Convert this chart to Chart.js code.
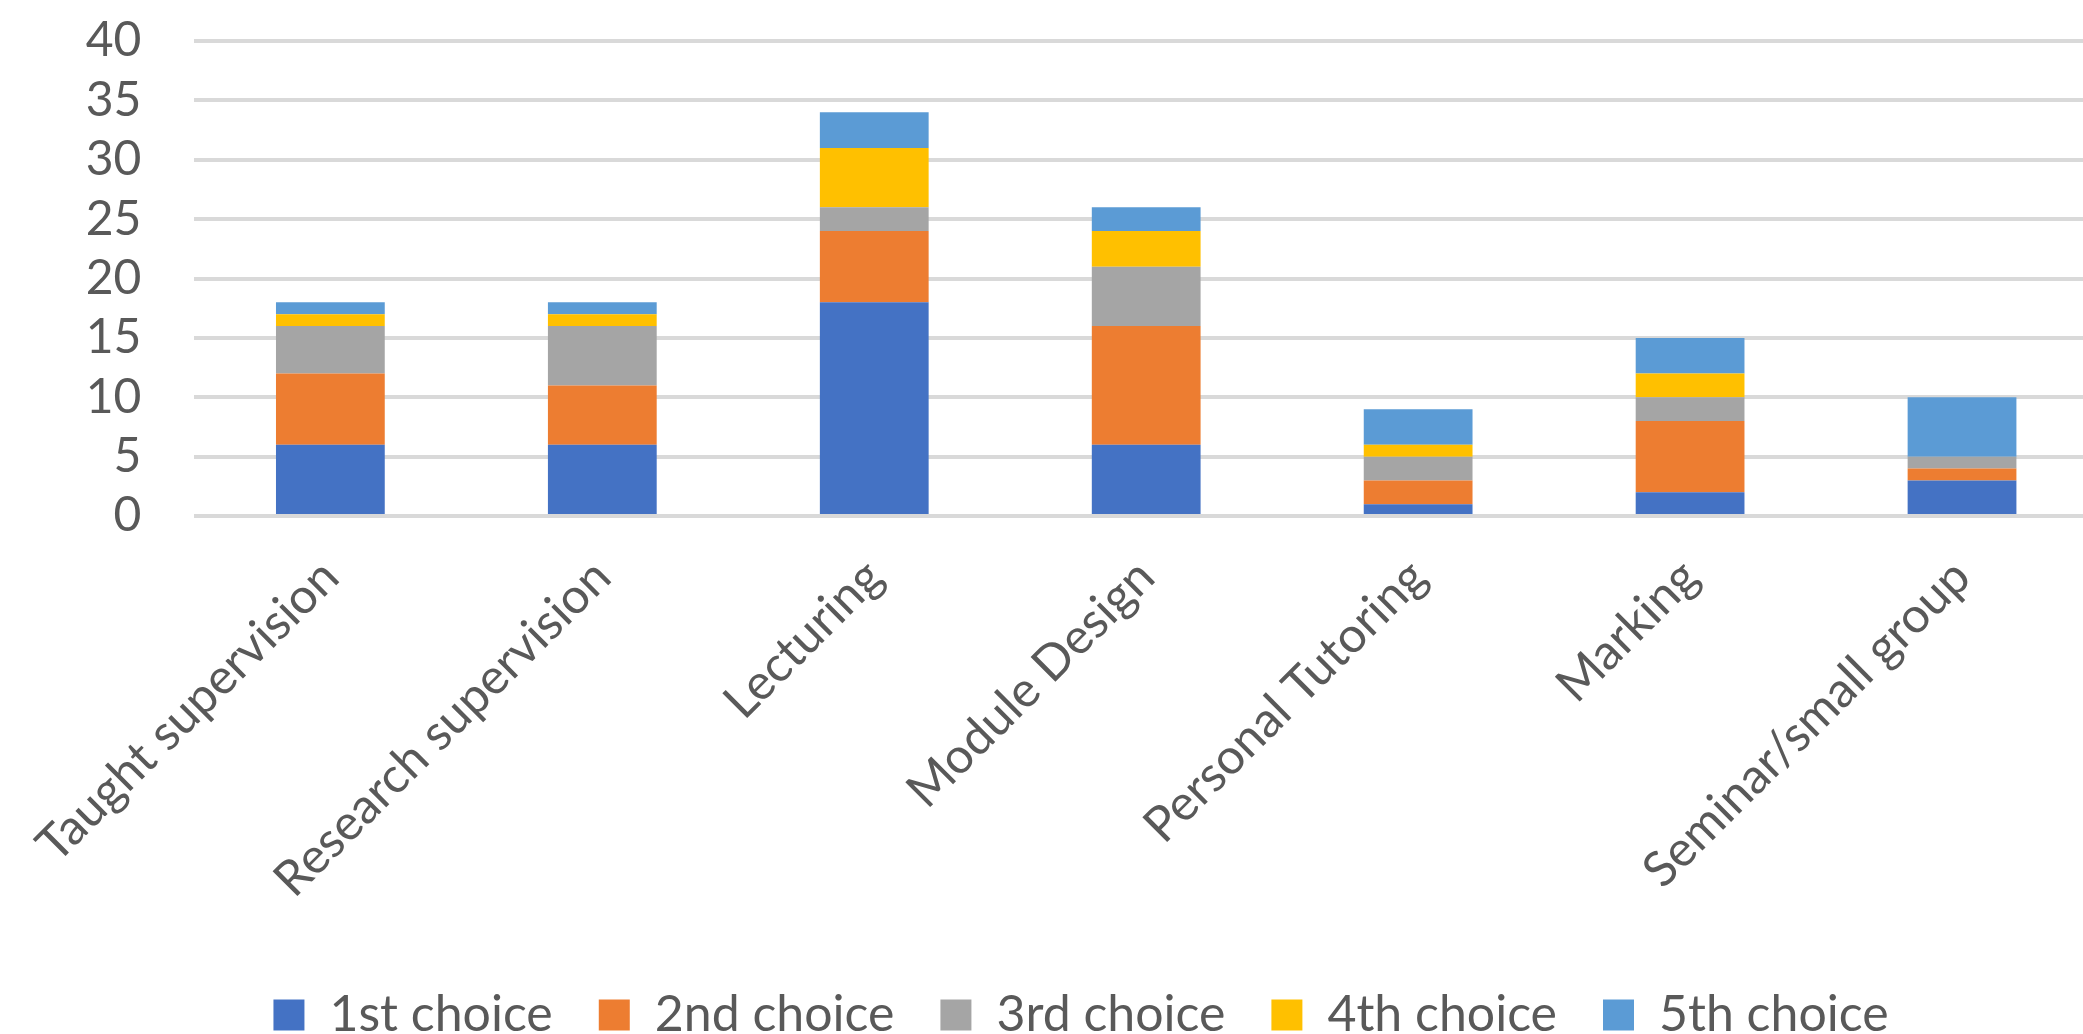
<!DOCTYPE html>
<html>
<head>
<meta charset="utf-8">
<script src="https://cdn.jsdelivr.net/npm/chart.js@4.4.1/dist/chart.umd.min.js"></script>
<style>
    html, body { margin: 0; padding: 0; background: #fff; overflow: hidden; }
    #wrap { position: absolute; left: 0; top: 0; width: 2098px; height: 1050px; }
</style>
</head>
<body>
<div id="wrap"><canvas id="graph"></canvas></div>
<script>
const categories = ['Taught supervision', 'Research supervision', 'Lecturing', 'Module Design',
    'Personal Tutoring', 'Marking', 'Seminar/small group'];
const firstChoice = [6, 6, 18, 6, 1, 2, 3];
const secondChoice = [6, 5, 6, 10, 2, 6, 1];
const thirdChoice = [4, 5, 2, 5, 2, 2, 1];
const fourthChoice = [1, 1, 5, 3, 1, 2, 0];
const fifthChoice = [1, 1, 3, 2, 3, 3, 5];
const yTicks = [0, 5, 10, 15, 20, 25, 30, 35, 40];

const FONT = 'Lato, "Open Sans", sans-serif';
const TEXT = '#595959';
const LEGEND_PAD = 46;

const data = {
    labels: categories,
    datasets: [
        { label: '1st choice', data: firstChoice, backgroundColor: '#4472C4' },
        { label: '2nd choice', data: secondChoice, backgroundColor: '#ED7D31' },
        { label: '3rd choice', data: thirdChoice, backgroundColor: '#A5A5A5' },
        { label: '4th choice', data: fourthChoice, backgroundColor: '#FFC000' },
        { label: '5th choice', data: fifthChoice, backgroundColor: '#5B9BD5' },
    ]
};

const config = {
    type: 'bar',
    data: data,
    options: {
        responsive: true,
        maintainAspectRatio: false,
        animation: false,
        events: [],
        datasets: {
            bar: { categoryPercentage: 0.4, barPercentage: 1.0 }
        },
        // left padding only moves the legend centre; y axis width makes up the rest
        layout: { padding: { top: 41, left: 64, right: 0, bottom: 0 } },
        scales: {
            x: {
                stacked: true,
                grid: { display: false, drawTicks: false },
                border: { display: false },
                ticks: {
                    autoSkip: false,
                    maxRotation: 45,
                    minRotation: 45,
                    padding: 32,
                    color: TEXT,
                    font: { family: FONT, size: 49 }
                },
                afterFit: (scale) => { scale.height = 428; }
            },
            y: {
                stacked: true,
                min: 0,
                max: 40,
                afterBuildTicks: (scale) => { scale.ticks = yTicks.map(v => ({ value: v })); },
                grid: { color: '#D9D9D9', lineWidth: 4, drawTicks: false },
                border: { display: false },
                ticks: {
                    autoSkip: false,
                    padding: 53,
                    color: TEXT,
                    font: { family: FONT, size: 48 }
                },
                afterFit: (scale) => {
                    scale.width = 129;
                    scale.paddingTop = 0;
                    scale.paddingBottom = 0;
                }
            }
        },
        plugins: {
            legend: {
                position: 'bottom',
                labels: {
                    boxWidth: 31,
                    boxHeight: 31,
                    padding: LEGEND_PAD,
                    color: TEXT,
                    font: { family: FONT, size: 50 }
                }
            },
            tooltip: { enabled: false }
        }
    }
};

const chart = new Chart(document.getElementById('graph'), config);
</script>
</body>
</html>
